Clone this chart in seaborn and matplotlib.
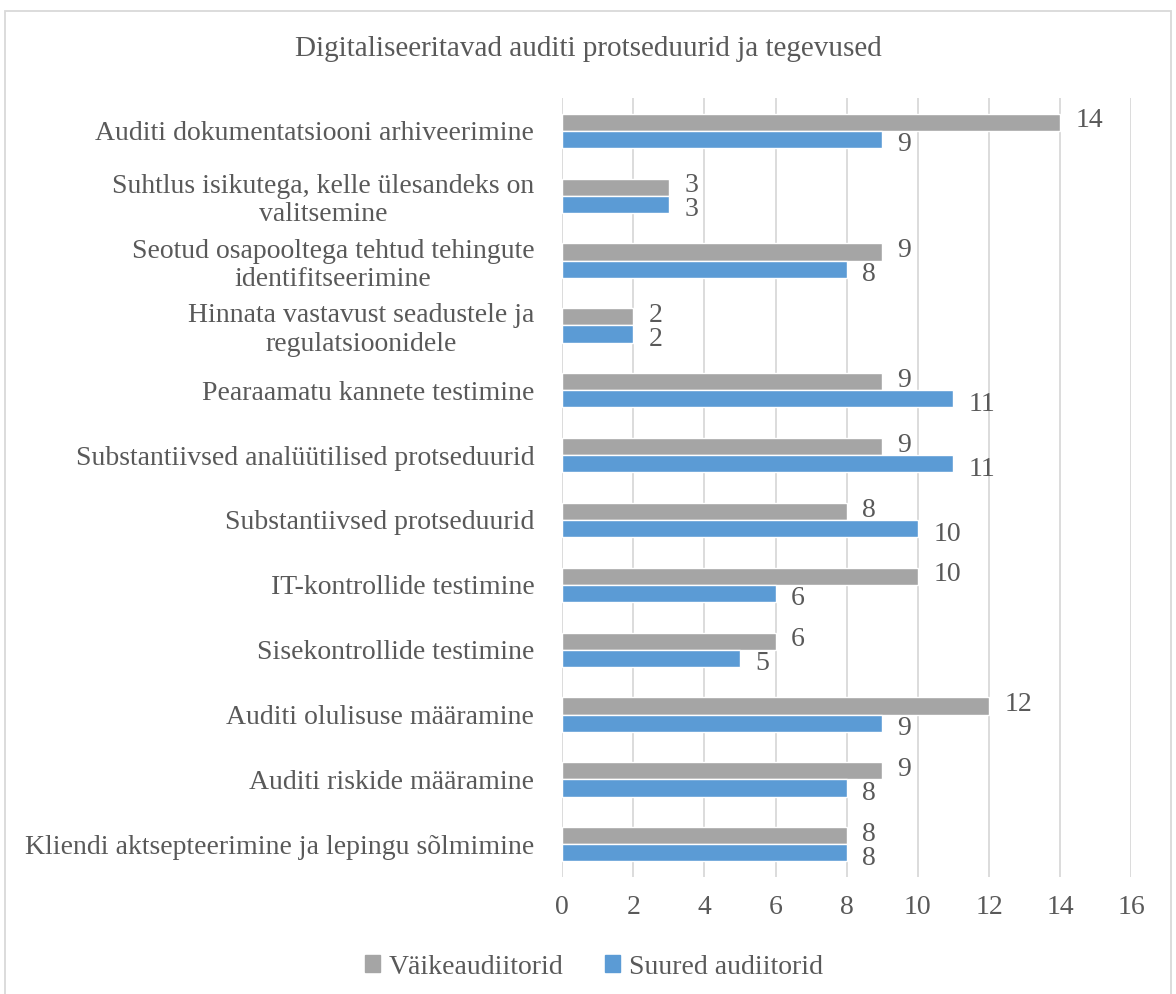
import matplotlib
matplotlib.use("Agg")
import matplotlib.pyplot as plt
import seaborn as sns
import pandas as pd
from matplotlib.patches import Rectangle

categories = [
    "Auditi dokumentatsiooni arhiveerimine",
    "Suhtlus isikutega, kelle ülesandeks on\nvalitsemine",
    "Seotud osapooltega tehtud tehingute\nidentifitseerimine",
    "Hinnata vastavust seadustele ja\nregulatsioonidele",
    "Pearaamatu kannete testimine",
    "Substantiivsed analüütilised protseduurid",
    "Substantiivsed protseduurid",
    "IT-kontrollide testimine",
    "Sisekontrollide testimine",
    "Auditi olulisuse määramine",
    "Auditi riskide määramine",
    "Kliendi aktsepteerimine ja lepingu sõlmimine",
]
small_auditors = [14, 3, 9, 2, 9, 9, 8, 10, 6, 12, 9, 8]
large_auditors = [9, 3, 8, 2, 11, 11, 10, 6, 5, 9, 8, 8]
series_names = ["Väikeaudiitorid", "Suured audiitorid"]
title = "Digitaliseeritavad auditi protseduurid ja tegevused"
x_ticks = [0, 2, 4, 6, 8, 10, 12, 14, 16]

df = pd.DataFrame({
    "kategooria": categories * 2,
    "väärtus": small_auditors + large_auditors,
    "seeria": [series_names[0]] * len(categories) + [series_names[1]] * len(categories),
})

sns.set_theme(style="white")
plt.rcParams["font.family"] = ["Liberation Serif", "DejaVu Serif"]
text_color = "#595959"
fs = 20

fig = plt.figure(figsize=(11.76, 9.94), dpi=100)
ax = fig.add_axes([0.478, 0.118, 0.484, 0.783])

palette = {series_names[0]: "#A5A5A5", series_names[1]: "#5B9BD5"}
sns.barplot(data=df, y="kategooria", x="väärtus", hue="seeria", orient="h",
            palette=palette, width=0.53, saturation=1, ax=ax, legend=False,
            order=categories, hue_order=series_names)

ax.set_xlim(0, 16)
ax.set_xticks(x_ticks)
ax.grid(axis="x", color="#D9D9D9", linewidth=1.3)
ax.grid(axis="y", visible=False)
ax.set_axisbelow(True)
for s in ax.spines.values():
    s.set_visible(False)
ax.set_xlabel("")
ax.set_ylabel("")
ax.tick_params(axis="both", length=0, labelsize=fs, colors=text_color)
ax.tick_params(axis="y", pad=20)
ax.tick_params(axis="x", pad=13)
for lbl in ax.get_yticklabels():
    lbl.set_multialignment("center")

# value labels
for ci, cont in enumerate(ax.containers):
    for bar in cont:
        w = bar.get_width()
        yc = bar.get_y() + bar.get_height() / 2
        dy = 1 if ci == 0 else -4
        ax.annotate(f"{int(round(w))}", xy=(w, yc), xytext=(11, dy),
                    textcoords="offset points", ha="left", va="center",
                    fontsize=fs, color=text_color)

fig.text(0.5, 0.951, title, ha="center", va="center", fontsize=21, color=text_color)

handles = [Rectangle((0, 0), 1, 1, color=palette[n]) for n in series_names]
fig.legend(handles, series_names, loc="center", bbox_to_anchor=(0.505, 0.027),
           ncol=2, frameon=False, fontsize=fs, handlelength=0.55, handleheight=0.55,
           handletextpad=0.3, columnspacing=1.5, labelcolor=text_color)

fig.patches.append(Rectangle((0.004, -0.01), 0.992, 0.999, transform=fig.transFigure,
                             fill=False, edgecolor="#D9D9D9", linewidth=1.3))

fig.savefig("out.png", dpi=100)
